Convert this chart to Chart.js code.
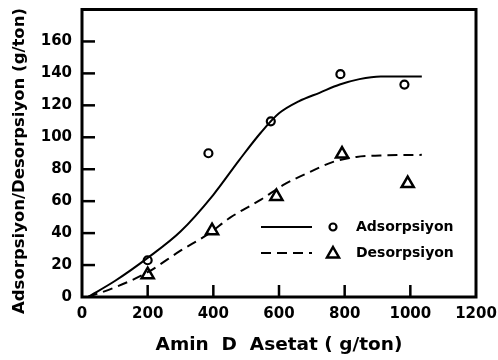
<!DOCTYPE html>
<html>
<head>
<meta charset="utf-8">
<script src="https://cdn.jsdelivr.net/npm/chart.js@4"></script>
<style>
html,body{margin:0;padding:0;background:#fff;}
#wrap{width:498px;height:360px;}
</style>
</head>
<body>
<div id="wrap"><canvas id="c" width="498" height="360"></canvas></div>
<script>
// Measured points
const adsX = [200, 385, 575, 787, 982];
const adsY = [23, 90, 110, 139.5, 133];
const desX = [200, 396, 592, 792, 992];
const desY = [14, 41.5, 63, 89.5, 71];
// Fitted curves
const adsFitX = [18, 100, 200, 300, 400, 480, 545, 600, 660, 725, 785, 845, 910, 1035];
const adsFit  = [0, 10, 24.5, 41, 64, 86, 103, 115, 122.5, 128, 133, 136.4, 138, 138];
const desFitX = [18, 100, 200, 300, 385, 450, 545, 612, 695, 765, 836, 930, 1035];
const desFit  = [0, 6, 15.5, 29, 39.5, 49.5, 61, 70, 78.4, 84.6, 87.7, 88.7, 89];
// Ticks
const xTicks = [0, 200, 400, 600, 800, 1000, 1200];
const yTicks = [0, 20, 40, 60, 80, 100, 120, 140, 160];
const legendLabels = ['Adsorpsiyon', 'Desorpsiyon'];
const xTitle = 'Amin  D  Asetat ( g/ton)';
const yTitle = 'Adsorpsiyon/Desorpsiyon (g/ton)';

const pts = (xs, ys) => xs.map((x, i) => ({x: x, y: ys[i]}));
const FONT = 'DejaVu Sans';

const frameAndTicks = {
  id: 'frameAndTicks',
  afterDraw(chart) {
    const {ctx, chartArea: a, scales} = chart;
    ctx.save();
    ctx.strokeStyle = '#000';
    ctx.lineWidth = 3;
    ctx.strokeRect(a.left, a.top, a.right - a.left, a.bottom - a.top);
    ctx.lineWidth = 2.5;
    // inward y ticks
    yTicks.forEach(v => {
      if (v === 0) return;
      const y = scales.y.getPixelForValue(v);
      ctx.beginPath(); ctx.moveTo(a.left, y); ctx.lineTo(a.left + 13, y); ctx.stroke();
    });
    xTicks.forEach(v => {
      if (v === 0 || v === 1200) return;
      const x = scales.x.getPixelForValue(v);
      ctx.beginPath(); ctx.moveTo(x, a.bottom); ctx.lineTo(x, a.bottom - 12); ctx.stroke();
    });
    // y title
    ctx.fillStyle = '#000';
    ctx.save();
    ctx.translate(20, 161);
    ctx.rotate(-Math.PI / 2);
    ctx.font = 'bold 16.5px "' + FONT + '"';
    ctx.textAlign = 'center';
    ctx.textBaseline = 'middle';
    ctx.fillText(yTitle, 0, 0);
    ctx.restore();
    // legend
    const lx0 = 261, lx1 = 312, mx = 333, tx = 356;
    const rows = [227, 253];
    ctx.lineWidth = 2;
    ctx.beginPath(); ctx.setLineDash([]); ctx.moveTo(lx0, rows[0]); ctx.lineTo(lx1, rows[0]); ctx.stroke();
    ctx.beginPath(); ctx.setLineDash([10, 6]); ctx.moveTo(lx0, rows[1]); ctx.lineTo(lx1, rows[1]); ctx.stroke();
    ctx.setLineDash([]);
    ctx.lineWidth = 2.2;
    ctx.beginPath(); ctx.arc(mx, rows[0], 3.5, 0, Math.PI * 2); ctx.stroke();
    ctx.beginPath();
    ctx.moveTo(mx, rows[1] - 6); ctx.lineTo(mx + 6, rows[1] + 4.5); ctx.lineTo(mx - 6, rows[1] + 4.5); ctx.closePath();
    ctx.lineWidth = 2.5; ctx.stroke();
    ctx.font = 'bold 14px "' + FONT + '"';
    ctx.textBaseline = 'middle';
    ctx.textAlign = 'left';
    ctx.fillText(legendLabels[0], tx, rows[0]);
    ctx.fillText(legendLabels[1], tx, rows[1]);
    ctx.restore();
  }
};

new Chart(document.getElementById('c'), {
  type: 'scatter',
  data: {
    datasets: [
      {label: 'Adsorpsiyon fit', data: pts(adsFitX, adsFit), showLine: true, borderColor: '#000', borderWidth: 2,
       pointRadius: 0, cubicInterpolationMode: 'monotone', fill: false},
      {label: 'Desorpsiyon fit', data: pts(desFitX, desFit), showLine: true, borderColor: '#000', borderWidth: 2,
       borderDash: [10, 6], pointRadius: 0, cubicInterpolationMode: 'monotone', fill: false},
      {label: legendLabels[0], data: pts(adsX, adsY), showLine: false, pointStyle: 'circle', pointRadius: 4,
       pointBorderWidth: 2.2, pointBorderColor: '#000', pointBackgroundColor: '#fff'},
      {label: legendLabels[1], data: pts(desX, desY), showLine: false, pointStyle: 'triangle', pointRadius: 7,
       pointBorderWidth: 2.5, pointBorderColor: '#000', pointBackgroundColor: '#fff'}
    ]
  },
  options: {
    responsive: false,
    animation: false,
    layout: {padding: {left: 0, right: 22, top: 8, bottom: 0}},
    plugins: {legend: {display: false}, tooltip: {enabled: false}},
    scales: {
      x: {
        type: 'linear', min: 0, max: 1200,
        afterBuildTicks: s => { s.ticks = xTicks.map(v => ({value: v})); },
        afterFit: s => { s.height = 63; s.paddingLeft = 0; s.paddingRight = 0; },
        grid: {display: false, drawTicks: false},
        border: {display: false},
        ticks: {color: '#000', padding: 8, font: {family: FONT, size: 15, weight: 'bold'}, maxRotation: 0,
                callback: v => String(v)},
        title: {display: true, text: xTitle, color: '#000',
                font: {family: FONT, size: 18.5, weight: 'bold'}, padding: {top: 0, bottom: 4}}
      },
      y: {
        type: 'linear', min: 0, max: 180,
        afterBuildTicks: s => { s.ticks = yTicks.map(v => ({value: v})); },
        afterFit: s => { s.width = 82; s.paddingTop = 0; s.paddingBottom = 0; },
        grid: {display: false, drawTicks: false},
        border: {display: false},
        ticks: {color: '#000', padding: 10, font: {family: FONT, size: 15, weight: 'bold'},
                callback: v => String(v)}
      }
    }
  },
  plugins: [frameAndTicks]
});
</script>
</body>
</html>
